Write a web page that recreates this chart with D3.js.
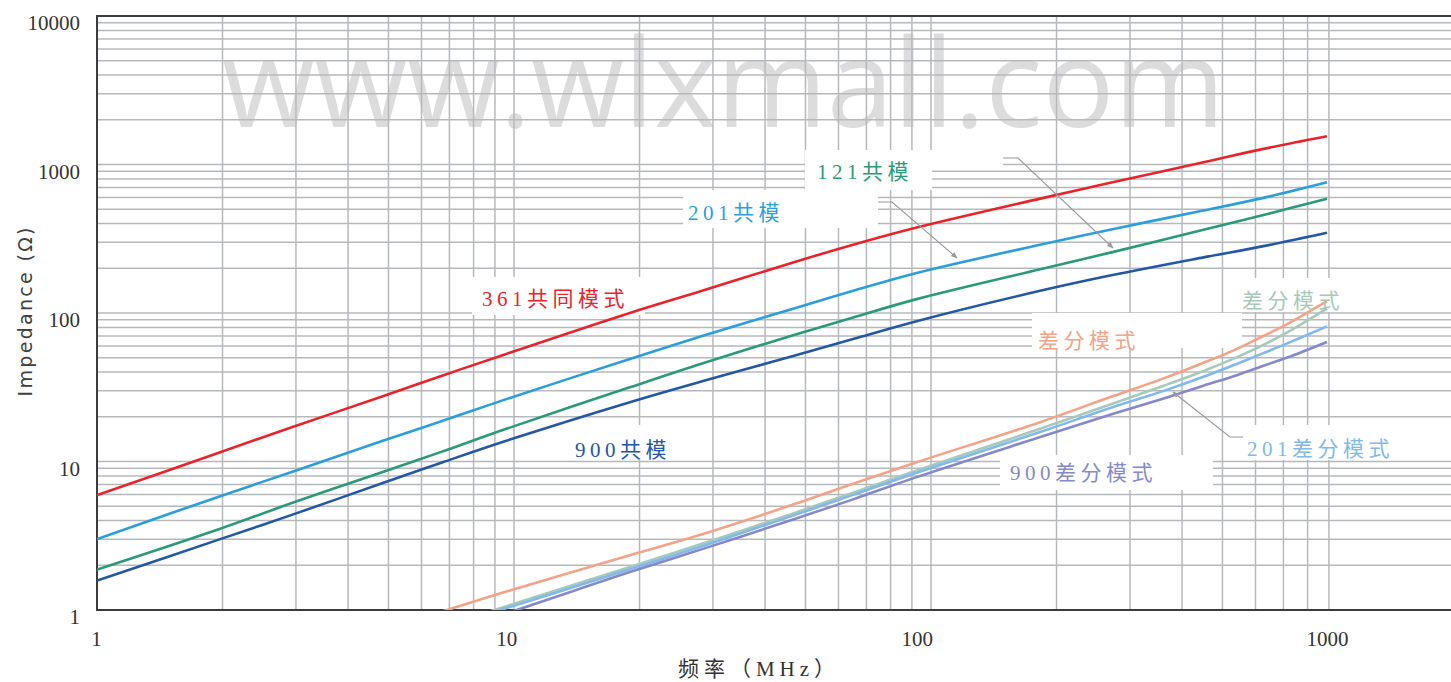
<!DOCTYPE html>
<html>
<head>
<meta charset="utf-8">
<script src="https://cdn.jsdelivr.net/npm/d3@7"></script>
<style>
  html, body { margin: 0; padding: 0; background: #fff; }
  svg { display: block; }
</style>
</head>
<body>
<svg id="chart" width="1451" height="682"></svg>
<script>
// ---- data -------------------------------------------------------------
// Common-mode impedance (Ω) versus frequency (MHz)
const freqCM = [1, 2, 3, 5, 7, 10, 20, 30, 50, 70, 100, 200, 300, 500, 700, 1000];
const cm361 = [5.9, 11.5, 17, 27.5, 38, 53, 100, 141, 219, 288, 376, 589, 759, 1035, 1274, 1550];
const cm201 = [2.99, 5.82, 8.51, 13.8, 18.8, 26.3, 49.0, 70.0, 107, 141, 186, 288, 367, 490, 596, 759];
const cm121 = [1.86, 3.51, 5.25, 8.51, 11.7, 16.6, 31.6, 45.7, 70.8, 93.3, 124, 197, 257, 363, 457, 589];
const cm900 = [1.57, 2.99, 4.37, 7.16, 9.89, 13.8, 25.1, 34.7, 51.3, 66.8, 88.1, 141, 180, 237, 282, 347];

// Differential-mode impedance (Ω) versus frequency (MHz)
const freqDM = [7, 10, 20, 30, 50, 70, 100, 200, 300, 400, 500, 600, 700, 800, 1000];
const dm361 = [0.98, 1.33, 2.34, 3.24, 5.13, 7.08, 9.89, 18.4, 27.5, 36.3, 46.2, 56.9, 70.0, 84.1, 120];
const dm121 = [0.78, 1.06, 1.95, 2.79, 4.47, 6.17, 8.71, 16.6, 24.5, 32.4, 40.7, 50.1, 61.0, 74.1, 107];
const dm201 = [0.755, 1.03, 1.88, 2.69, 4.32, 5.96, 8.41, 15.8, 23.2, 29.9, 37.2, 45.2, 53.7, 62.4, 81.3];
const dm900 = [0.70, 0.95, 1.80, 2.57, 4.07, 5.56, 7.85, 14.6, 20.9, 26.6, 32.4, 38.0, 44.2, 50.1, 63.8];

// Axis ticks and titles
const xTicks = [1, 10, 100, 1000];
const yTicks = [1, 10, 100, 1000, 10000];
const xTitle = "频率（MHz）";
const yTitle = "Impedance (Ω)";
const watermark = "www.wlxmall.com";

// Series: label text and colour
const seriesNames = ["361共同模式", "201共模", "121共模", "900共模", "差分模式", "差分模式", "201差分模式", "900差分模式"];
const seriesColors = ["#e8232c", "#2a9fdc", "#2a9a7a", "#2457a5", "#f2a388", "#a8c9ba", "#80b9ea", "#8589ca"];

// ---- layout -------------------------------------------------------------
const svg = d3.select("#chart");
const P = { left: 97, right: 1451, top: 16, bottom: 610 };

// data / tick-label scale and the grid scale
const x = d3.scaleLog().domain([1, 1000]).range([96, 1327]);
const xGrid = d3.scaleLog().domain([1, 1000]).range([97, 1348]);
const y = d3.scaleLog().domain([1, 10000]).range([P.bottom, P.top]);

const serif = "'Liberation Serif', 'Noto Sans CJK SC', serif";

// label placement: [textX, baseline]
const labelPos = [
  [482, 306], [688, 220], [817, 179], [575, 457],
  [1038, 348], [1242, 308], [1247, 456], [1010, 480]
];
// white boxes behind labels: [x0, y0, x1, y1]
const boxes = [
  [472, 277, 645, 315], [683, 190, 878, 228], [805, 150, 1003, 168], [805, 168, 932, 190],
  [558, 425, 712, 458], [1032, 313, 1242, 348], [1240, 278, 1352, 312],
  [1235, 425, 1405, 460], [1000, 455, 1213, 490]
];
// leader lines: elbow then pointer
const leaders = [
  [[1003, 158], [1018, 158], [1113, 248]],
  [[878, 202], [892, 202], [957, 258]],
  [[1243, 437], [1230, 437], [1173, 392]]
];

// ---- watermark ------------------------------------------------------------
svg.append("text")
  .attr("x", 222).attr("y", 127)
  .attr("textLength", 1003).attr("lengthAdjust", "spacingAndGlyphs")
  .style("font-family", "'Open Sans', 'DejaVu Sans', sans-serif")
  .style("font-size", "122px")
  .style("fill", "#dcdcdc")
  .text(watermark);

// ---- grid -------------------------------------------------------------------
const gridX = [];
[1, 10, 100].forEach(d => { for (let m = (d === 1 ? 2 : 1); m <= 9; m++) gridX.push(m * d); });
const gridY = [];
[1, 10, 100, 1000].forEach(d => { for (let m = 1; m <= 9; m++) if (m * d > 1) gridY.push(m * d); });

const grid = svg.append("g").attr("stroke", "#b6b9bc").attr("stroke-width", 1.5);
grid.selectAll("line.v").data(gridX).join("line").attr("class", "v")
  .attr("x1", d => xGrid(d)).attr("x2", d => xGrid(d))
  .attr("y1", P.top).attr("y2", P.bottom);
grid.selectAll("line.h").data(gridY).join("line").attr("class", "h")
  .attr("x1", P.left).attr("x2", P.right)
  .attr("y1", d => y(d)).attr("y2", d => y(d));

// frame: top, left, bottom
svg.append("path")
  .attr("d", `M${P.right},${y(10000)}H${P.left}V${y(1)}H${P.right}`)
  .attr("stroke", "#3c3c3c").attr("stroke-width", 2).attr("fill", "none");

// ---- label backgrounds -----------------------------------------------------
svg.append("g").selectAll("rect").data(boxes).join("rect")
  .attr("x", d => d[0]).attr("y", d => d[1])
  .attr("width", d => d[2] - d[0]).attr("height", d => d[3] - d[1])
  .attr("fill", "#fff");

// ---- curves -----------------------------------------------------------------
svg.append("defs").append("clipPath").attr("id", "plotClip")
  .append("rect").attr("x", P.left).attr("y", P.top)
  .attr("width", P.right - P.left).attr("height", P.bottom - P.top);

const line = d3.line().x(d => x(d[0])).y(d => y(d[1])).curve(d3.curveCatmullRom.alpha(0.5));
const curves = [
  [freqCM, cm361], [freqCM, cm201], [freqCM, cm121], [freqCM, cm900],
  [freqDM, dm361], [freqDM, dm121], [freqDM, dm201], [freqDM, dm900]
];
const cg = svg.append("g").attr("clip-path", "url(#plotClip)");
curves.forEach(([f, z], i) => {
  cg.append("path")
    .datum(f.map((v, k) => [v, z[k]]))
    .attr("d", line)
    .attr("fill", "none")
    .attr("stroke", seriesColors[i])
    .attr("stroke-width", 2.6)
    .attr("stroke-linejoin", "round");
});

// ---- leader lines ----------------------------------------------------------
svg.append("defs").append("marker").attr("id", "arrow")
  .attr("viewBox", "0 0 10 10").attr("refX", 9).attr("refY", 5)
  .attr("markerWidth", 6).attr("markerHeight", 6).attr("orient", "auto")
  .append("path").attr("d", "M0,1L10,5L0,9Z").attr("fill", "#9a9a9a");
svg.append("g").selectAll("path").data(leaders).join("path")
  .attr("d", d => d3.line()(d))
  .attr("fill", "none").attr("stroke", "#9a9a9a").attr("stroke-width", 1.1)
  .attr("marker-end", "url(#arrow)");

// ---- series labels ---------------------------------------------------------
svg.append("g").selectAll("text").data(seriesNames).join("text")
  .attr("x", (d, i) => labelPos[i][0]).attr("y", (d, i) => labelPos[i][1])
  .style("font-family", serif).style("font-size", "21px")
  .style("letter-spacing", "4.5px")
  .style("fill", (d, i) => seriesColors[i])
  .text(d => d);

// ---- axes ---------------------------------------------------------------
const fmt = d => String(d);
const ax = svg.append("g").attr("transform", `translate(0,${P.bottom})`)
  .call(d3.axisBottom(x).tickValues(xTicks).tickFormat(fmt).tickSize(0).tickPadding(21));
const ay = svg.append("g").attr("transform", `translate(${P.left},0)`)
  .call(d3.axisLeft(y).tickValues(yTicks).tickFormat(fmt).tickSize(0).tickPadding(17));
[ax, ay].forEach(g => {
  g.select(".domain").remove();
  g.selectAll("text").style("font-family", serif).style("font-size", "21px").attr("fill", "#333");
});
ay.selectAll("text").attr("y", 7);

svg.append("text")
  .attr("x", 759).attr("y", 676).attr("text-anchor", "middle")
  .style("font-family", serif).style("font-size", "21px").style("fill", "#333")
  .style("letter-spacing", "5px")
  .text(xTitle);

svg.append("text")
  .attr("transform", "translate(32,312) rotate(-90)")
  .attr("text-anchor", "middle")
  .attr("textLength", 169).attr("lengthAdjust", "spacing")
  .style("font-family", "'DejaVu Sans', sans-serif").style("font-size", "19px").style("fill", "#404040")
  .text(yTitle);
</script>
</body>
</html>
